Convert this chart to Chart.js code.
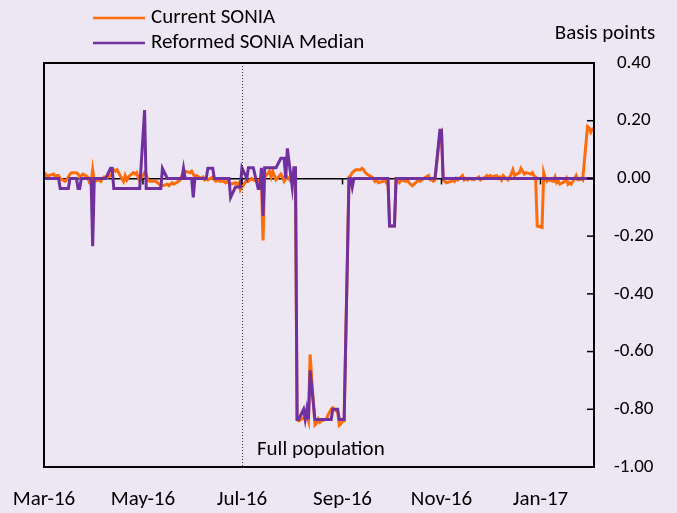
<!DOCTYPE html>
<html>
<head>
<meta charset="utf-8">
<title>SONIA: current vs reformed median</title>
<script src="https://cdn.jsdelivr.net/npm/chart.js@4.4.1/dist/chart.umd.min.js"></script>
<style>
    html, body { margin: 0; padding: 0; background: #ede6f3; }
    #wrap { position: relative; width: 677px; height: 513px; }
</style>
</head>
<body>
<div id="wrap"><canvas id="soniaChart" width="677" height="513"></canvas></div>
<script>
/* ---- data: one value per business day, starting Tue 1 Mar 2016 (basis points) ---- */
const startDate = '2016-03-01';
const axisEndDate = '2017-02-03';

const currentSonia = [
    0.01, 0.015, 0.005, 0.01, 0.015, 0.005, 0.01, 0.01, 0.0, -0.01,
    -0.005, 0.005, 0.015, 0.02, 0.02, 0.015, 0.005, 0.01, 0.015, 0.005,
    -0.015, -0.02, 0.03, -0.01, -0.005, -0.01, 0.0, 0.005, 0.0, 0.01,
    0.02, 0.03, 0.025, 0.03, 0.0, -0.01, 0.01, -0.005, 0.005, 0.02,
    0.015, 0.02, 0.005, -0.01, 0.02, 0.015, -0.005, -0.01, -0.01, -0.01,
    -0.015, -0.02, -0.025, -0.025, -0.02, -0.025, -0.02, -0.015, -0.02, -0.01,
    -0.005, 0.01, 0.02, 0.025, 0.02, 0.025, 0.015, 0.005, 0.01, 0.0,
    0.005, -0.005, 0.0, -0.005, 0.005, -0.005, -0.01, -0.005, -0.01, -0.01,
    -0.015, -0.01, -0.015, -0.02, -0.015, -0.02, -0.015, -0.04, -0.03, -0.005,
    -0.01, -0.005, 0.0, -0.005, -0.01, -0.005, -0.01, -0.215, 0.005, 0.025,
    0.005, 0.025, 0.01, -0.005, 0.015, 0.005, -0.01, 0.0, 0.005, -0.015,
    -0.005, 0.0, -0.835, -0.84, -0.83, -0.835, -0.82, -0.84, -0.61, -0.855,
    -0.85, -0.835, -0.845, -0.84, -0.835, -0.82, -0.81, -0.80, -0.795, -0.81,
    -0.855, -0.85, -0.84, -0.84, 0.005, 0.01, 0.02, 0.025, 0.03, 0.03,
    0.035, 0.03, 0.02, 0.015, 0.005, 0.0, -0.01, -0.005, -0.015, -0.01,
    -0.005, -0.015, -0.01, -0.165, -0.165, -0.005, -0.01, -0.015, -0.005, -0.01,
    -0.005, -0.015, -0.02, -0.025, -0.01, -0.005, -0.01, -0.005, 0.0, 0.01,
    -0.005, -0.005, -0.01, -0.005, 0.15, 0.16, -0.005, -0.01, -0.015, -0.01,
    -0.005, -0.01, 0.0, -0.005, 0.01, -0.005, 0.0, -0.005, 0.0, -0.005,
    0.0, 0.0, 0.005, -0.005, 0.005, 0.01, 0.005, 0.01, 0.005, 0.01,
    0.0, 0.005, -0.005, 0.01, -0.005, 0.005, 0.015, 0.03, 0.01, 0.02,
    0.035, 0.025, 0.015, 0.02, 0.015, 0.02, 0.01, 0.005, -0.165, -0.17,
    0.02, 0.0, -0.01, -0.005, -0.01, 0.005, -0.015, -0.01, -0.02, -0.01,
    0.0, -0.02, -0.015, -0.02, 0.01, -0.005, -0.005, 0.0, -0.005, 0.18,
    0.175, 0.16, 0.17, 0.165
];

const reformedMedian = [
    0, 0, 0, 0, 0, 0, 0, 0, -0.035, -0.035,
    -0.035, -0.035, 0, 0, 0, -0.035, -0.035, 0, 0, 0,
    0, 0, -0.235, 0, 0, 0, 0, 0, 0, 0.035,
    0.035, -0.035, -0.035, -0.035, -0.035, -0.035, -0.035, -0.035, -0.035, -0.035,
    -0.035, -0.035, -0.035, -0.035, 0.237, -0.035, -0.035, -0.035, -0.035, -0.035,
    -0.035, -0.035, -0.035, 0.035, 0, 0, 0, 0, 0, 0,
    0, 0, 0.035, 0, 0, 0, -0.066, 0, 0, 0,
    0, 0, 0, 0.035, 0.035, 0, 0, 0, 0, 0,
    0, 0, 0, -0.066, -0.03, -0.03, -0.03, -0.03, 0.037, 0,
    0.037, 0.037, 0.037, 0.037, -0.035, -0.035, 0.037, -0.13, 0.037, 0.037,
    0.037, 0.037, 0.037, 0.037, 0.07, 0.07, 0.07, 0, 0.104, -0.03,
    0.037, 0.037, -0.835, -0.835, -0.80, -0.835, -0.80, -0.835, -0.665, -0.835,
    -0.835, -0.835, -0.835, -0.835, -0.835, -0.835, -0.835, -0.835, -0.80, -0.80,
    -0.835, -0.835, -0.835, -0.835, 0, 0, -0.03, 0, 0, 0,
    0, 0, 0, 0, 0, 0, 0, 0, 0, 0,
    0, 0, 0, -0.165, -0.165, 0, 0, 0, 0, 0,
    0, 0, 0, 0, 0, 0, 0, 0, 0, 0,
    0, 0, 0, 0, 0.167, 0.167, 0, 0, 0, 0,
    0, 0, 0, 0, 0, 0, 0, 0, 0, 0,
    0, 0, 0, 0, 0, 0, 0, 0, 0, 0,
    0, 0, 0, 0, 0, 0, 0, 0, 0, 0,
    0, 0, 0, 0, 0, 0, 0, 0, 0, 0,
    0, 0, 0, 0, 0, 0, 0, 0, 0, 0,
    0, 0, 0, 0, 0, 0, 0, 0, 0, 0,
    0, 0, 0, 0
];

const tickLabels = ['Mar-16', 'May-16', 'Jul-16', 'Sep-16', 'Nov-16', 'Jan-17'];
const tickDates = ['2016-03-01', '2016-05-01', '2016-07-01', '2016-09-01', '2016-11-01', '2017-01-01'];
const markerDate = '2016-07-01';   // dotted line
const markerText = 'Full population';
const unitText = 'Basis points';

/* ---- helpers ---- */
const DAY = 86400000;
const dayOffset = (d) => Math.round((Date.parse(d + 'T00:00:00Z') - Date.parse(startDate + 'T00:00:00Z')) / DAY);

// weekday offsets (days from startDate) for each value
function businessDays(n) {
    const out = [];
    let t = Date.parse(startDate + 'T00:00:00Z');
    while (out.length < n) {
        const wd = new Date(t).getUTCDay();
        if (wd !== 0 && wd !== 6) out.push(Math.round((t - Date.parse(startDate + 'T00:00:00Z')) / DAY));
        t += DAY;
    }
    return out;
}
const dayPos = businessDays(currentSonia.length);
const toPoints = (vals) => vals.map((v, i) => ({ x: dayPos[i], y: v }));

const ORANGE = '#ff6d0a';
const PURPLE = '#7030a0';
const FONT = 'Carlito, Lato, "Open Sans", sans-serif';
const textFont = { family: FONT, size: 21 };
const numFont = { family: FONT, size: 19 };

/* ---- extras Excel draws: frame, inward ticks, dotted marker, texts, legend ---- */
const framePlugin = {
    id: 'frame',
    afterDatasetsDraw(chart) {
        const { ctx, chartArea: a, scales: { x, y } } = chart;
        ctx.save();
        // dotted marker
        const mx = x.getPixelForValue(dayOffset(markerDate));
        ctx.strokeStyle = '#333';
        ctx.lineWidth = 1;
        ctx.setLineDash([1, 2]);
        ctx.beginPath();
        ctx.moveTo(Math.round(mx) + 0.5, a.top);
        ctx.lineTo(Math.round(mx) + 0.5, a.bottom);
        ctx.stroke();
        ctx.setLineDash([]);

        // frame
        ctx.strokeStyle = '#000';
        ctx.lineWidth = 2;
        ctx.strokeRect(a.left, a.top, a.right - a.left, a.bottom - a.top);

        // y ticks pointing into the plot
        ctx.lineWidth = 1.5;
        y.ticks.forEach(t => {
            const py = y.getPixelForValue(t.value);
            ctx.beginPath();
            ctx.moveTo(a.right - 7, py);
            ctx.lineTo(a.right, py);
            ctx.stroke();
        });
        // x ticks hanging from the zero line
        const y0 = y.getPixelForValue(0);
        x.ticks.forEach(t => {
            const px = x.getPixelForValue(t.value);
            ctx.beginPath();
            ctx.moveTo(px, y0);
            ctx.lineTo(px, y0 + 6);
            ctx.stroke();
        });

        // texts
        ctx.fillStyle = '#000';
        ctx.font = `${textFont.size}px ${FONT}`;
        ctx.textBaseline = 'middle';
        ctx.textAlign = 'left';
        ctx.fillText(markerText, mx + 15, a.bottom - 17);
        ctx.textAlign = 'center';
        ctx.fillText(unitText, a.right + 11, a.top - 29);

        // legend, stacked
        ctx.textAlign = 'left';
        chart.data.datasets.forEach((ds, i) => {
            const ly = 18 + i * 25;
            ctx.strokeStyle = ds.borderColor;
            ctx.lineWidth = 2.5;
            ctx.beginPath();
            ctx.moveTo(93, ly);
            ctx.lineTo(145, ly);
            ctx.stroke();
            ctx.fillStyle = '#000';
            ctx.fillText(ds.label, 151, ly);
        });
        ctx.restore();
    }
};

const fmt = (v) => (Math.abs(v) < 1e-9 ? 0 : v).toFixed(2);

new Chart(document.getElementById('soniaChart'), {
    type: 'line',
    data: {
        datasets: [
            {
                label: 'Current SONIA',
                data: toPoints(currentSonia),
                borderColor: ORANGE,
                borderWidth: 3,
                pointRadius: 0,
                tension: 0,
                order: 1
            },
            {
                label: 'Reformed SONIA Median',
                data: toPoints(reformedMedian),
                borderColor: PURPLE,
                borderWidth: 3,
                pointRadius: 0,
                tension: 0,
                order: 0
            }
        ]
    },
    options: {
        responsive: false,
        animation: false,
        layout: { padding: { left: 44, top: 63, right: 0, bottom: 0 } },
        plugins: {
            legend: { display: false },
            tooltip: { enabled: false }
        },
        scales: {
            x: {
                type: 'linear',
                min: 0,
                max: dayOffset(axisEndDate),
                grid: { display: false },
                border: { display: false },
                afterBuildTicks: (s) => { s.ticks = tickDates.map(d => ({ value: dayOffset(d) })); },
                afterFit: (s) => { s.height = 46; },
                ticks: {
                    font: textFont,
                    color: '#000',
                    padding: 12,
                    maxRotation: 0,
                    autoSkip: false,
                    callback: (v, i) => tickLabels[i]
                }
            },
            y: {
                position: 'right',
                min: -1,
                max: 0.4,
                grid: {
                    drawTicks: false,
                    lineWidth: 1.5,
                    color: (c) => (c.tick && Math.abs(c.tick.value) < 1e-9 ? '#000' : 'rgba(0,0,0,0)')
                },
                border: { display: false },
                afterFit: (s) => { s.width = 83; },
                ticks: {
                    stepSize: 0.2,
                    padding: 20,
                    crossAlign: 'center',
                    font: numFont,
                    color: '#000',
                    callback: (v) => fmt(v)
                }
            }
        }
    },
    plugins: [framePlugin]
});
</script>
</body>
</html>
